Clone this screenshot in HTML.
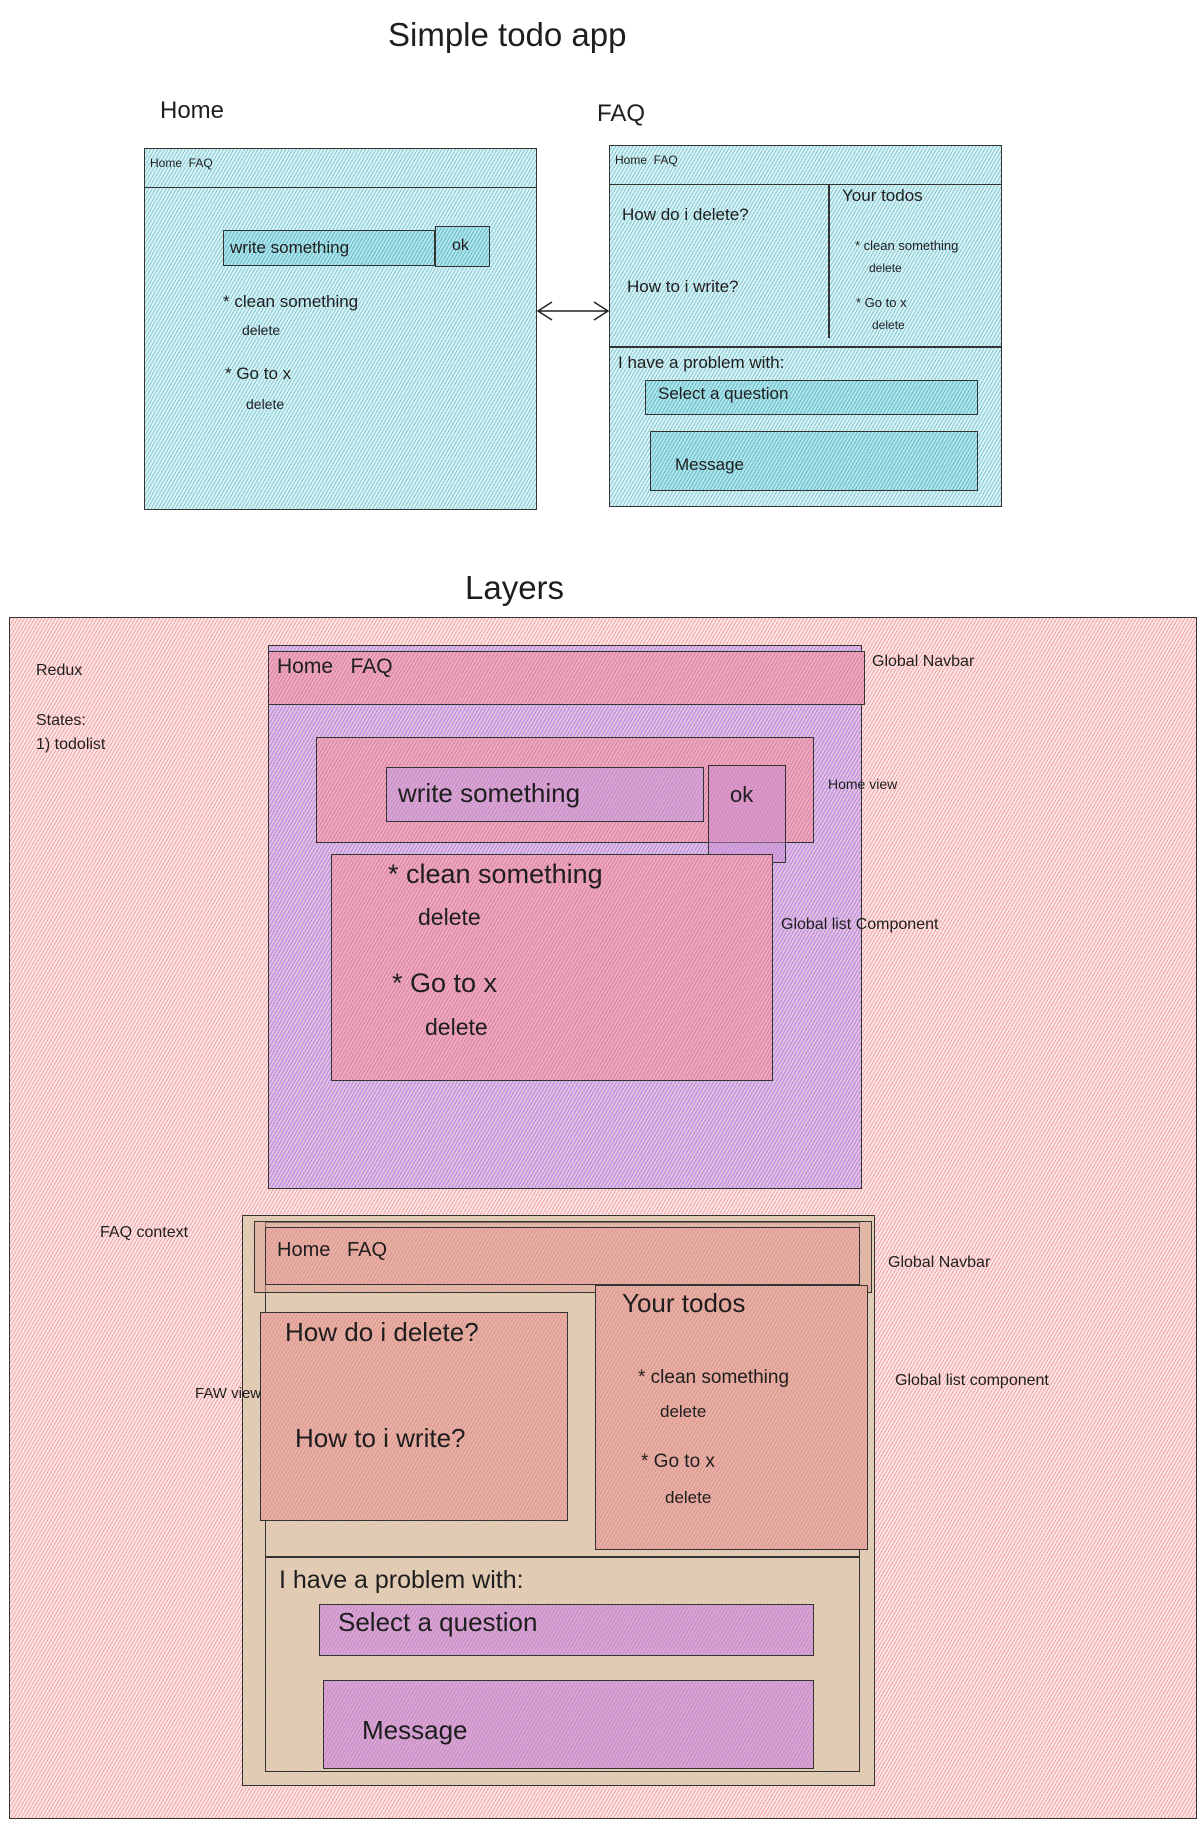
<!DOCTYPE html>
<html><head><meta charset="utf-8"><style>
body{margin:0;width:1199px;height:1824px;background:#fff;position:relative;overflow:hidden;font-family:"Liberation Sans",sans-serif;color:#1e1e1e}
.b{position:absolute;box-sizing:border-box;border:1.5px solid #333}
.t{position:absolute;white-space:nowrap;line-height:1}
.cy{background:repeating-linear-gradient(-60deg,#7fcbd6 0 1px,#dcf2f5 1px 3px)}
.cy2{background:repeating-linear-gradient(-60deg,#5fbfcc 0 1px,#b5e3ea 1px 3px)}
.rd{background:repeating-linear-gradient(-60deg,#f3a3a3 0 1px,#fde6e6 1px 3px)}
.pu{background:repeating-linear-gradient(-60deg,#a890ec 0 1px,#e4b0d4 1px 2px,#eec8e0 2px 3px)}
.pk{background:repeating-linear-gradient(-60deg,#e07fa0 0 1px,#eaaac2 1px 3px)}
.pp{background:repeating-linear-gradient(-60deg,#c38ad6 0 1px,#dba6cc 1px 3px)}
.yl{background:repeating-linear-gradient(-60deg,#c9d59a 0 1px,#eac0bc 1px 2px,#f0ccc4 2px 3px)}
.or{background:repeating-linear-gradient(-60deg,#d89a80 0 1px,#eaaeac 1px 3px)}
</style></head><body>
<div class="t" style="left:388px;top:18px;font-size:33px">Simple todo app</div>
<div class="t" style="left:160px;top:99px;font-size:24px">Home</div>
<div class="t" style="left:597px;top:102px;font-size:24px">FAQ</div>

<div class="b cy" style="left:144px;top:148px;width:393px;height:362px"></div>
<div class="b" style="left:144px;top:148px;width:393px;height:40px"></div>
<div class="t" style="left:150px;top:157px;font-size:12px">Home &nbsp;FAQ</div>
<div class="b cy2" style="left:223px;top:230px;width:212px;height:36px"></div>
<div class="t" style="left:230px;top:239px;font-size:17px">write something</div>
<div class="b cy2" style="left:435px;top:226px;width:55px;height:41px"></div>
<div class="t" style="left:452px;top:238px;font-size:16px">ok</div>
<div class="t" style="left:223px;top:293px;font-size:17px">* clean something</div>
<div class="t" style="left:242px;top:323px;font-size:14px">delete</div>
<div class="t" style="left:225px;top:365px;font-size:17px">* Go to x</div>
<div class="t" style="left:246px;top:397px;font-size:14px">delete</div>

<svg style="position:absolute;left:530px;top:296px" width="86" height="30"><path d="M8 15H78M22 6L8 15L22 24M64 6L78 15L64 24" stroke="#222" stroke-width="1.5" fill="none"/></svg>

<div class="b cy" style="left:609px;top:145px;width:393px;height:362px"></div>
<div class="b" style="left:609px;top:145px;width:393px;height:40px"></div>
<div style="position:absolute;left:828px;top:184px;width:1.5px;height:154px;background:#333"></div>
<div style="position:absolute;left:609px;top:346px;width:393px;height:1.5px;background:#333"></div>
<div class="t" style="left:615px;top:154px;font-size:12px">Home &nbsp;FAQ</div>
<div class="t" style="left:622px;top:206px;font-size:17px">How do i delete?</div>
<div class="t" style="left:627px;top:278px;font-size:17px">How to i write?</div>
<div class="t" style="left:842px;top:187px;font-size:17px">Your todos</div>
<div class="t" style="left:855px;top:239px;font-size:13px">* clean something</div>
<div class="t" style="left:869px;top:262px;font-size:12px">delete</div>
<div class="t" style="left:856px;top:296px;font-size:13px">* Go to x</div>
<div class="t" style="left:872px;top:319px;font-size:12px">delete</div>
<div class="t" style="left:618px;top:354px;font-size:17px">I have a problem with:</div>
<div class="b cy2" style="left:645px;top:380px;width:333px;height:35px"></div>
<div class="t" style="left:658px;top:385px;font-size:17px">Select a question</div>
<div class="b cy2" style="left:650px;top:431px;width:328px;height:60px"></div>
<div class="t" style="left:675px;top:456px;font-size:17px">Message</div>

<div class="t" style="left:465px;top:571px;font-size:33px">Layers</div>

<div class="b rd" style="left:9px;top:617px;width:1188px;height:1202px"></div>
<div class="t" style="left:36px;top:663px;font-size:16px">Redux</div>
<div class="t" style="left:36px;top:713px;font-size:16px">States:</div>
<div class="t" style="left:36px;top:737px;font-size:16px">1) todolist</div>

<div class="b pu" style="left:268px;top:645px;width:594px;height:544px"></div>
<div class="b pk" style="left:268px;top:651px;width:597px;height:54px"></div>
<div class="t" style="left:277px;top:656px;font-size:21px">Home &nbsp;&nbsp;FAQ</div>
<div class="t" style="left:872px;top:654px;font-size:16px">Global Navbar</div>
<div class="b pk" style="left:316px;top:737px;width:498px;height:106px"></div>
<div class="b pp" style="left:386px;top:767px;width:318px;height:55px"></div>
<div class="t" style="left:398px;top:780px;font-size:26px">write something</div>
<div class="b pp" style="left:708px;top:765px;width:78px;height:98px;background:rgba(200,140,210,.5)"></div>
<div class="t" style="left:730px;top:784px;font-size:22px">ok</div>
<div class="t" style="left:828px;top:777px;font-size:14px">Home view</div>
<div class="b pk" style="left:331px;top:854px;width:442px;height:227px"></div>
<div class="t" style="left:388px;top:861px;font-size:27px">* clean something</div>
<div class="t" style="left:418px;top:906px;font-size:23px">delete</div>
<div class="t" style="left:392px;top:970px;font-size:27px">* Go to x</div>
<div class="t" style="left:425px;top:1016px;font-size:23px">delete</div>
<div class="t" style="left:781px;top:917px;font-size:16px">Global list Component</div>

<div class="b yl" style="left:242px;top:1215px;width:633px;height:571px"></div>
<div class="b" style="left:265px;top:1222px;width:595px;height:550px"></div>
<div class="b or" style="left:254px;top:1221px;width:618px;height:72px;background:rgba(225,160,150,.5)"></div>
<div class="b or" style="left:265px;top:1227px;width:595px;height:58px"></div>
<div class="t" style="left:277px;top:1240px;font-size:20px">Home &nbsp;&nbsp;FAQ</div>
<div class="t" style="left:888px;top:1255px;font-size:16px">Global Navbar</div>
<div class="t" style="left:100px;top:1225px;font-size:16px">FAQ context</div>
<div class="t" style="left:195px;top:1386px;font-size:15px">FAW view</div>
<div class="b or" style="left:260px;top:1312px;width:308px;height:209px"></div>
<div class="t" style="left:285px;top:1319px;font-size:26px">How do i delete?</div>
<div class="t" style="left:295px;top:1425px;font-size:26px">How to i write?</div>
<div class="b or" style="left:595px;top:1285px;width:273px;height:265px"></div>
<div class="t" style="left:622px;top:1290px;font-size:26px">Your todos</div>
<div class="t" style="left:638px;top:1368px;font-size:19px">* clean something</div>
<div class="t" style="left:660px;top:1403px;font-size:17px">delete</div>
<div class="t" style="left:641px;top:1452px;font-size:19px">* Go to x</div>
<div class="t" style="left:665px;top:1489px;font-size:17px">delete</div>
<div class="t" style="left:895px;top:1373px;font-size:16px">Global list component</div>
<div style="position:absolute;left:265px;top:1556px;width:595px;height:1.5px;background:#333"></div>
<div class="t" style="left:279px;top:1568px;font-size:25px">I have a problem with:</div>
<div class="b pp" style="left:319px;top:1604px;width:495px;height:52px"></div>
<div class="t" style="left:338px;top:1609px;font-size:26px">Select a question</div>
<div class="b pp" style="left:323px;top:1680px;width:491px;height:89px"></div>
<div class="t" style="left:362px;top:1717px;font-size:26px">Message</div>
</body></html>
